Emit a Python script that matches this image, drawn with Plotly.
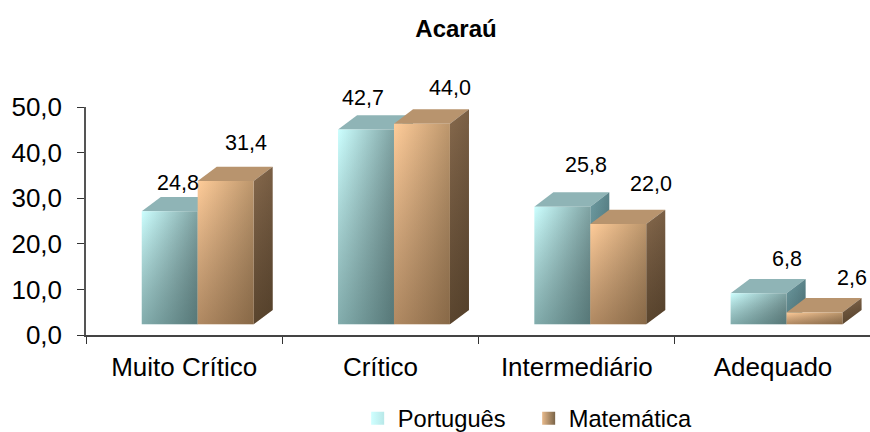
import plotly.graph_objects as go

categories = ["Muito Crítico", "Crítico", "Intermediário", "Adequado"]
portugues = [24.8, 42.7, 25.8, 6.8]
matematica = [31.4, 44.0, 22.0, 2.6]
tick_values = [0, 10, 20, 30, 40, 50]
series_names = ["Português", "Matemática"]

# 3D look (axis units)
FLOOR = 2.35
DEPTH_Y = 3.14
DEPTH_X = 0.097
BAR_W = 0.285
BAR_START = 0.284
XMAX = 3.994

FONT = "Liberation Sans, Arial, sans-serif"

STYLE = [
    dict(front_h=["#CCFFFF", "#7FA3A3"], shade="rgba(30,60,60,0.42)", top="#8FB4B6",
         side_h=["#6E9CA2", "#5A8389"], side_shade="rgba(20,40,40,0.25)"),
    dict(front_h=["#FFCC99", "#BC966C"], shade="rgba(50,30,10,0.38)", top="#B8946E",
         side_h=["#86694C", "#7A5F44"], side_shade="rgba(30,20,5,0.42)"),
]
# label shifts in pixels from the top of each bar's front face
LABEL_SHIFT = [
    [(8, -28), (-3, -32), (24, -42), (28, -34)],
    [(20, -38), (28, -36), (33, -40), (37, -34)],
]

fig = go.Figure()


def poly(xs, ys, colors=None, solid=None, vertical=False):
    kw = dict(x=xs + xs[:1], y=ys + ys[:1], mode="lines", line=dict(width=0),
              fill="toself", hoverinfo="skip", showlegend=False)
    if colors:
        kw["fillgradient"] = dict(
            type="vertical" if vertical else "horizontal",
            colorscale=[[0, colors[0]], [1, colors[1]]] if not vertical else [[0, colors[1]], [1, colors[0]]],
        )
        kw["fillcolor"] = "rgba(0,0,0,0)"
    else:
        kw["fillcolor"] = solid
    fig.add_trace(go.Scatter(**kw))


for s, values in enumerate([portugues, matematica]):
    st = STYLE[s]
    for c, v in enumerate(values):
        x0 = c + BAR_START + s * BAR_W
        x1 = x0 + BAR_W
        y0 = FLOOR
        y1 = FLOOR + v
        # top face
        poly([x0, x1, x1 + DEPTH_X, x0 + DEPTH_X], [y1, y1, y1 + DEPTH_Y, y1 + DEPTH_Y], solid=st["top"])
        # side face
        sx = [x1, x1 + DEPTH_X, x1 + DEPTH_X, x1]
        sy = [y0, y0 + DEPTH_Y, y1 + DEPTH_Y, y1]
        poly(sx, sy, colors=st["side_h"])
        poly(sx, sy, colors=["rgba(0,0,0,0)", st["side_shade"]], vertical=True)
        # front face
        fx = [x0, x1, x1, x0]
        fy = [y0, y0, y1, y1]
        poly(fx, fy, colors=st["front_h"])
        poly(fx, fy, colors=["rgba(0,0,0,0)", st["shade"]], vertical=True)
        # value label
        dx, dy = LABEL_SHIFT[s][c]
        fig.add_annotation(x=(x0 + x1) / 2, y=y1, text=f"{v:.1f}".replace(".", ","),
                           showarrow=False, xshift=dx, yshift=-dy, yanchor="middle",
                           font=dict(family=FONT, size=21.5, color="black"))

# legend entries
fig.add_trace(go.Scatter(x=[None], y=[None], mode="markers", name=series_names[0],
                         marker=dict(symbol="square", size=13, color="#CFFFFF",
                                     gradient=dict(type="horizontal", color="#B8E8E8"), line=dict(width=0))))
fig.add_trace(go.Scatter(x=[None], y=[None], mode="markers", name=series_names[1],
                         marker=dict(symbol="square", size=13, color="#E8BA8C",
                                     gradient=dict(type="horizontal", color="#7A6448"), line=dict(width=0))))

fig.update_layout(
    width=870, height=432,
    margin=dict(l=86, r=0, t=107, b=97, autoexpand=False),
    paper_bgcolor="white", plot_bgcolor="white",
    separators=",.",
    font=dict(family=FONT, color="black"),
    title=dict(text="<b>Acaraú</b>", x=456 / 870, xanchor="center", y=1 - 29 / 432, yanchor="middle",
               font=dict(family=FONT, size=24, color="black")),
    showlegend=True,
    legend=dict(orientation="h", x=0.3465, xanchor="left", y=-0.365, yanchor="middle",
                font=dict(family=FONT, size=23.7, color="black"), bgcolor="rgba(0,0,0,0)",
                itemwidth=30, entrywidth=126, entrywidthmode="pixels", tracegroupgap=0),
    xaxis=dict(range=[0, XMAX], tickvals=[0.5, 1.5, 2.5, 3.5], ticktext=categories,
               ticks="", showgrid=False, zeroline=False, showline=True, linecolor="#444444", linewidth=1.5,
               tickfont=dict(family=FONT, size=26, color="black"), ticklabelstandoff=8,
               minor=dict(tickvals=[0, 1, 2, 3], ticks="outside", ticklen=7, tickcolor="#333333", showgrid=False)),
    yaxis=dict(range=[0, 50], tickvals=tick_values, tickformat=".1f",
               ticks="outside", ticklen=7, tickcolor="#333333", showgrid=False, zeroline=False,
               showline=True, linecolor="#555555", linewidth=1.5, ticklabelstandoff=10,
               tickfont=dict(family=FONT, size=26, color="black")),
)

fig.write_html("out.html", post_script="document.body.style.margin='0';",
               config=dict(displayModeBar=False))
